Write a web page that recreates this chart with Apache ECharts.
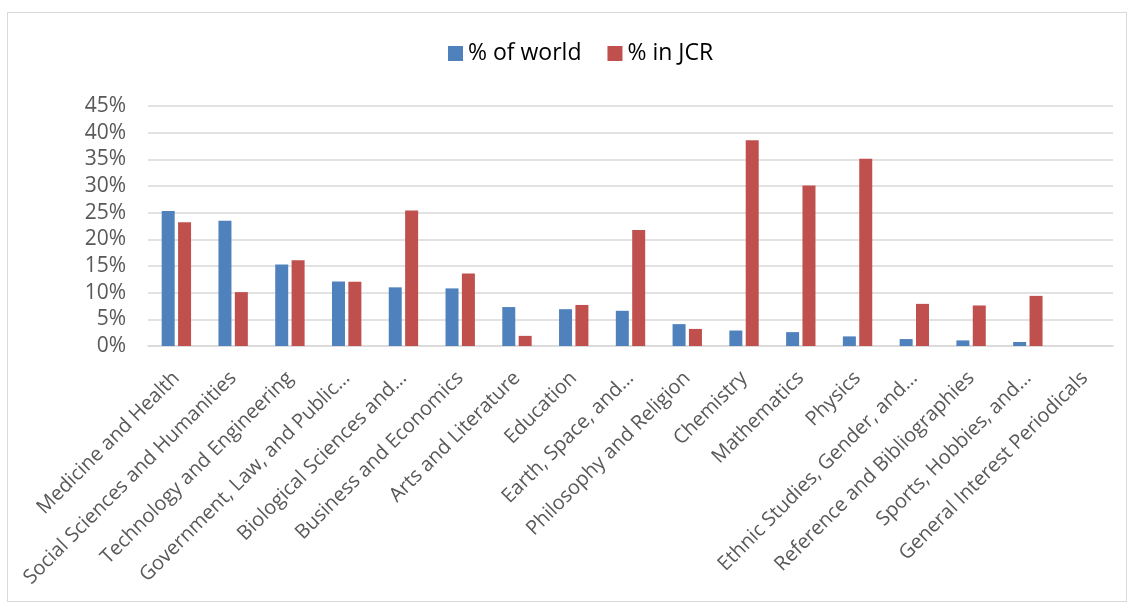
<!DOCTYPE html>
<html>
<head>
<meta charset="utf-8">
<script src="https://cdn.jsdelivr.net/npm/echarts@6/dist/echarts.min.js"></script>
<style>
  html, body { margin: 0; padding: 0; background: #fff; }
  #frame { position: absolute; left: 7px; top: 12px; width: 1120px; height: 590px; border: 1px solid #d9d9d9; box-sizing: border-box; }
  #chart { position: absolute; left: 0; top: 0; width: 1131px; height: 607px; }
</style>
</head>
<body>
<div id="frame"></div>
<div id="chart"></div>
<script>
// Subject categories along the x axis
const categories = [
  'Medicine and Health',
  'Social Sciences and Humanities',
  'Technology and Engineering',
  'Government, Law, and Public\u2026',
  'Biological Sciences and\u2026',
  'Business and Economics',
  'Arts and Literature',
  'Education',
  'Earth, Space, and\u2026',
  'Philosophy and Religion',
  'Chemistry',
  'Mathematics',
  'Physics',
  'Ethnic Studies, Gender, and\u2026',
  'Reference and Bibliographies',
  'Sports, Hobbies, and\u2026',
  'General Interest Periodicals'
];

// Share of titles (percent)
const pctOfWorld = [25.3, 23.5, 15.3, 12.1, 11.0, 10.8, 7.3, 6.9, 6.6, 4.1, 2.9, 2.6, 1.8, 1.3, 1.05, 0.75, 0];
const pctInJCR   = [23.2, 10.1, 16.1, 12.05, 25.4, 13.6, 1.9, 7.7, 21.75, 3.2, 38.6, 30.1, 35.1, 7.9, 7.6, 9.4, 0];

const yTicks = { min: 0, max: 45, interval: 5 };

const FONT = '"Open Sans", "Noto Sans", sans-serif';

const chart = echarts.init(document.getElementById('chart'), null, { renderer: 'canvas' });
chart.setOption({
  animation: false,
  textStyle: { fontFamily: FONT },
  legend: {
    top: 37,
    left: 443,
    itemWidth: 15,
    itemHeight: 15,
    itemGap: 26,
    icon: 'rect',
    textStyle: { fontSize: 23, color: '#000', fontFamily: FONT },
    data: ['% of world', '% in JCR']
  },
  grid: { left: 148, right: 18, top: 106, bottom: 261, containLabel: false },
  xAxis: {
    type: 'category',
    data: categories,
    axisLine: { lineStyle: { color: '#d9d9d9', width: 1.5 } },
    axisTick: { show: false },
    axisLabel: {
      interval: 0,
      rotate: 45,
      fontSize: 20,
      color: '#595959',
      fontFamily: FONT,
      margin: 29
    }
  },
  yAxis: {
    type: 'value',
    min: yTicks.min,
    max: yTicks.max,
    interval: yTicks.interval,
    axisLine: { show: false },
    axisTick: { show: false },
    splitLine: { lineStyle: { color: '#d9d9d9', width: 1.5 } },
    axisLabel: {
      formatter: v => v + '%',
      fontSize: 21,
      color: '#595959',
      fontFamily: FONT,
      margin: 22
    }
  },
  series: [
    {
      name: '% of world',
      type: 'bar',
      data: pctOfWorld,
      barWidth: 13,
      barGap: '26%',
      itemStyle: { color: '#4f81bd' }
    },
    {
      name: '% in JCR',
      type: 'bar',
      data: pctInJCR,
      barWidth: 13,
      itemStyle: { color: '#c0504d' }
    }
  ]
});
</script>
</body>
</html>
